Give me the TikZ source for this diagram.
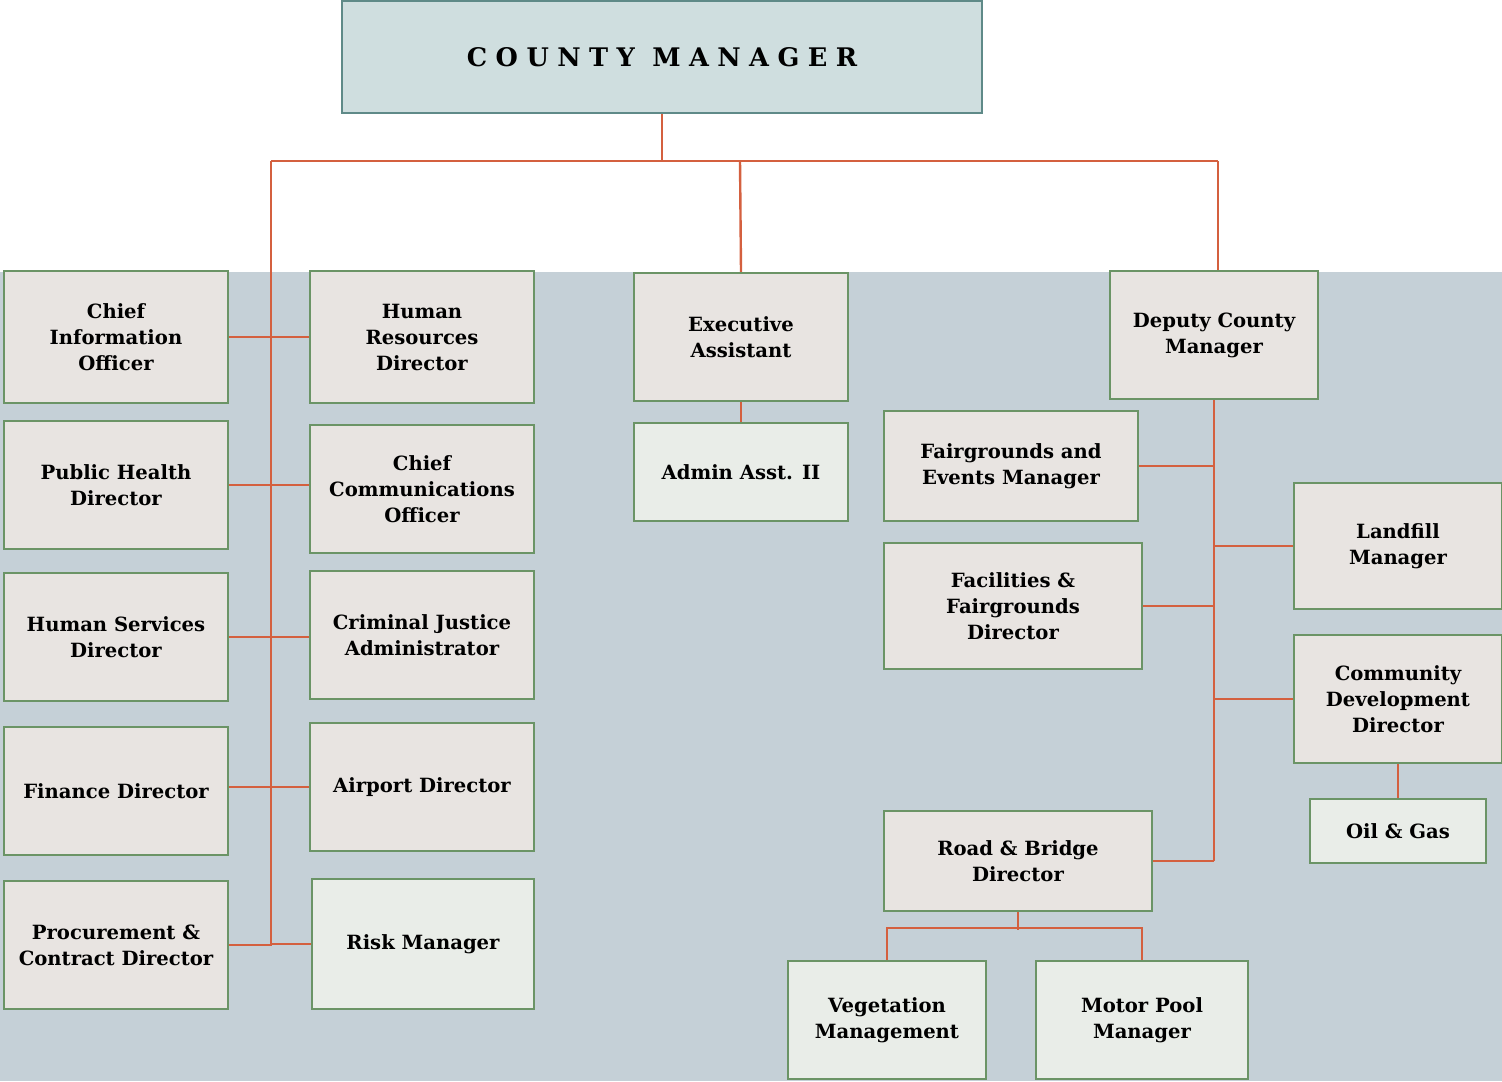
\documentclass[tikz,border=0pt]{standalone}
\usepackage{fontspec}
\setmainfont{DejaVu Serif}
\usepackage{tikz}
\usepackage{xcolor}

\definecolor{bgblue}{HTML}{C5D0D7}
\definecolor{boxfill}{HTML}{E8E4E1}
\definecolor{lightfill}{HTML}{E9EDE8}
\definecolor{boxedge}{HTML}{6B9466}
\definecolor{topfill}{HTML}{CFDEDF}
\definecolor{topedge}{HTML}{5F8A88}
\definecolor{linkred}{HTML}{D4603F}

\tikzset{
  box/.style={draw=boxedge, line width=1.1pt, fill=boxfill, inner sep=0pt,
    align=center, font=\fontsize{9.8}{13}\selectfont\bfseries},
  lbox/.style={box, fill=lightfill},
  topbox/.style={box, draw=topedge, fill=topfill},
  link/.style={draw=linkred, line width=1.2pt}
}

% box from its corners in pixels: name, x1, y1, x2, y2, text
\newcommand{\obox}[7][box]{%
  \node[#1, minimum width={(#5-#3)*0.5pt}, minimum height={(#6-#4)*0.5pt}]
    (#2) at ({(#3+#5)/2},{(#4+#6)/2}) {#7};}

\begin{document}
\begin{tikzpicture}[x=0.5pt,y=-0.5pt]
        \useasboundingbox (0,0) rectangle (1502,1081);
        \fill[bgblue] (0,272) rectangle (1502,1081);

        % top
        \obox[topbox]{cm}{342}{1}{982}{113}{\fontsize{12.8}{15}\selectfont\addfontfeatures{LetterSpace=33}COUNTY MANAGER}

        % left columns
        \obox{cio}{4}{271}{228}{403}{Chief\\Information\\Officer}
        \obox{hr}{310}{271}{534}{403}{Human\\Resources\\Director}
        \obox{ph}{4}{421}{228}{549}{Public Health\\Director}
        \obox{cco}{310}{425}{534}{553}{Chief\\Communications\\Officer}
        \obox{hs}{4}{573}{228}{701}{Human Services\\Director}
        \obox{cj}{310}{571}{534}{699}{Criminal Justice\\Administrator}
        \obox{fin}{4}{727}{228}{855}{Finance Director}
        \obox{air}{310}{723}{534}{851}{Airport Director}
        \obox{proc}{4}{881}{228}{1009}{Procurement \&\\Contract Director}
        \obox[lbox]{risk}{312}{879}{534}{1009}{Risk Manager}

        % middle
        \obox{ea}{634}{273}{848}{401}{Executive\\Assistant}
        \obox[lbox]{aa}{634}{423}{848}{521}{Admin Asst. II}

        % right
        \obox{dcm}{1110}{271}{1318}{399}{Deputy County\\Manager}
        \obox{fem}{884}{411}{1138}{521}{Fairgrounds and\\Events Manager}
        \obox{lf}{1294}{483}{1502}{609}{Landfill\\Manager}
        \obox{ffd}{884}{543}{1142}{669}{Facilities \&\\Fairgrounds\\Director}
        \obox{cdd}{1294}{635}{1502}{763}{Community\\Development\\Director}
        \obox[lbox]{og}{1310}{799}{1486}{863}{Oil \& Gas}
        \obox{rb}{884}{811}{1152}{911}{Road \& Bridge\\Director}
        \obox[lbox]{veg}{788}{961}{986}{1079}{Vegetation\\Management}
        \obox[lbox]{mp}{1036}{961}{1248}{1079}{Motor Pool\\Manager}

        \coordinate (lt) at (271,161);
        \coordinate (mid) at (740,161);
        \coordinate (rt) at (1218,161);

        \draw[link] (cm.south) -- (cm.south |- lt);
        \draw[link] (lt) -- (rt);
        \draw[link] (lt) -- (lt |- proc.east);
        \draw[link] (mid) -- (ea.north);
        \draw[link] (rt) -- (rt |- dcm.north);
        \draw[link] (ea.south) -- (aa.north);

        % left branches
        \draw[link] (cio.east) -- (hr.west);
        \draw[link] (ph.east) -- (ph.east -| cco.west);
        \draw[link] (hs.east) -- (hs.east -| cj.west);
        \draw[link] (air.west -| fin.east) -- (air.west);
        \draw[link] (proc.east) -- (proc.east -| lt) |- (risk.west);

        % right branches
        \draw[link] (dcm.south) -- (dcm.south |- rb.east);
        \draw[link] (fem.east) -- (fem.east -| dcm.south);
        \draw[link] (lf.west) -- (lf.west -| dcm.south);
        \draw[link] (ffd.east) -- (ffd.east -| dcm.south);
        \draw[link] (cdd.west) -- (cdd.west -| dcm.south);
        \draw[link] (rb.east) -- (rb.east -| dcm.south);
        \draw[link] (cdd.south) -- (og.north);
        \draw[link] (rb.south) -- ++(0,18);
        \draw[link] (veg.north) -- ++(0,-32) -| (mp.north);
    \end{tikzpicture}
\end{document}
